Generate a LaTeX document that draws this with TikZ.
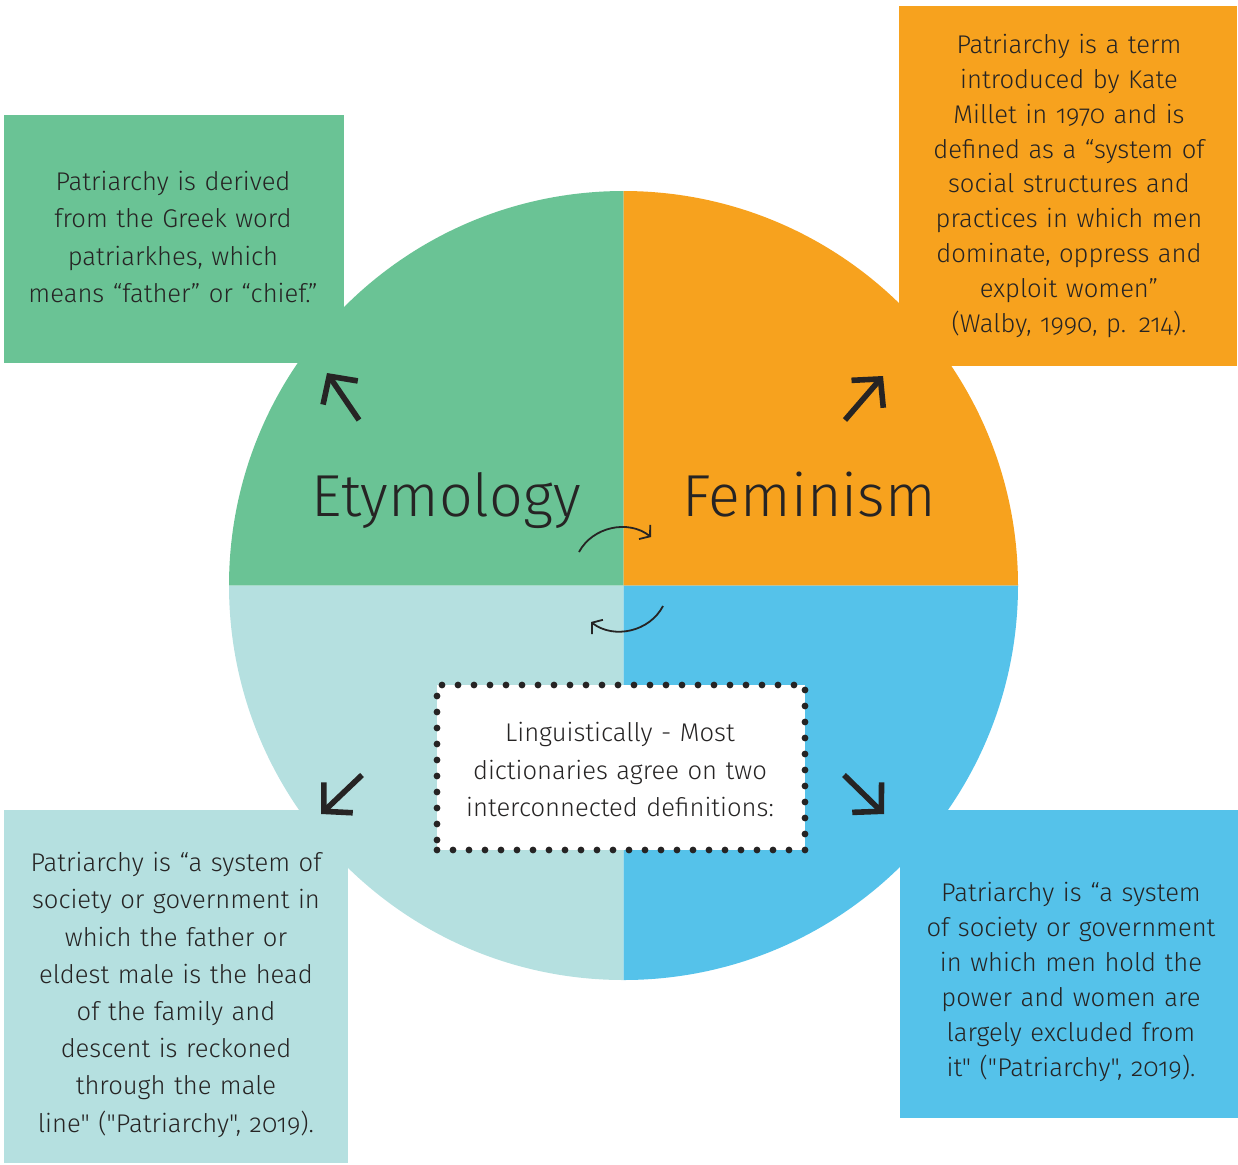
\documentclass[tikz,border=0pt]{standalone}
\usepackage{fontspec}
\setmainfont{Fira Sans}[UprightFont=* Light, Numbers=OldStyle, Ligatures=TeXOff]
\usetikzlibrary{arrows.meta}
\definecolor{etygreen}{RGB}{106,195,149}
\definecolor{femorange}{RGB}{247,162,30}
\definecolor{lingteal}{RGB}{181,224,224}
\definecolor{dictblue}{RGB}{85,194,234}
\definecolor{ink}{RGB}{38,36,36}

\tikzset{
  infobox/.style={inner sep=0pt, outer sep=0pt},
  infotext/.style={text=ink, text width=220pt, align=center, anchor=base, inner sep=0pt,
    font=\fontsize{12.8}{18.6}\selectfont},
  bigword/.style={text=ink, anchor=base, inner sep=0pt, font=\fontsize{29.6}{32}\selectfont},
  bigarrow/.style={ink, line width=2.8pt, -{Straight Barb[length=10pt,width=21pt]}},
  swirl/.style={ink, line width=0.9pt, -{Straight Barb[length=3.5pt,width=9pt]}},
  dotbox/.style={fill=white, draw=ink, line width=3.4pt, line cap=round,
    dash pattern=on 0pt off 8pt, inner sep=0pt}
}

\begin{document}
\begin{tikzpicture}[x=0.5pt,y=-0.5pt]
  \def\rad{197.25pt}
  \useasboundingbox (0,0) rectangle (1238,1164);

  \coordinate (hub) at (623.5,585.5);
  \foreach \a/\col in {90/etygreen,0/femorange,180/lingteal,270/dictblue}
    \fill[\col] (hub) -- ++(\a:\rad) arc[start angle=\a, end angle=\a+90, radius=\rad] -- cycle;

  % the four boxes round the circle
  \node[infobox, fill=etygreen, minimum width=170pt, minimum height=124pt] (etybox) at (174,239) {};
  \node[infobox, fill=femorange, minimum width=169pt, minimum height=180pt] (fembox) at (1068,186) {};
  \node[infobox, fill=lingteal, minimum width=172pt, minimum height=176.5pt] (lingbox) at (176,986.5) {};
  \node[infobox, fill=dictblue, minimum width=169pt, minimum height=154pt] (dictbox) at (1069,964) {};

  \node[infotext] (etytext) at (173,190.7) {Patriarchy is derived\\ from the Greek word\\ patriarkhes, which\\ means “father” or “chief.”};
  \node[infotext, font=\fontsize{12.8}{17.45}\selectfont] (femtext) at (1069,53.3) {Patriarchy is a term\\ introduced by Kate\\ Millet in 1970 and is\\ defined as a “system of\\ social structures and\\ practices in which men\\ dominate, oppress and\\ exploit women”\\ (Walby, 1990, p. 214).};
  \node[infotext] (lingtext) at (176,871.7) {Patriarchy is “a system of\\ society or government in\\ which the father or\\ eldest male is the head\\ of the family and\\ descent is reckoned\\ through the male\\ line" ("Patriarchy", 2019).};
  \node[infotext, font=\fontsize{12.8}{17.5}\selectfont] (dicttext) at (1071,901.7) {Patriarchy is “a system\\ of society or government\\ in which men hold the\\ power and women are\\ largely excluded from\\ it" ("Patriarchy", 2019).};

  \node[bigword] (ety) at (446,516) {Etymology};
  \node[bigword] (fem) at (809,516) {Feminism};

  \node[dotbox, minimum width=184pt, minimum height=82.5pt] (ling) at (621,767.5) {};
  \node[infotext, font=\fontsize{12.8}{18.75}\selectfont] (lingnote) at (620,741.7) {Linguistically - Most\\ dictionaries agree on two\\ interconnected definitions:};

  % arrows out to the boxes
  \coordinate (etytail) at (359,420);  \coordinate (etytip) at (327,373);
  \coordinate (femtail) at (845,420);  \coordinate (femtip) at (883,376);
  \coordinate (lingtail) at (362,775); \coordinate (lingtip) at (321,814);
  \coordinate (dicttail) at (844,775); \coordinate (dicttip) at (884,814);
  \foreach \n in {ety,fem,ling,dict}
    \draw[bigarrow] (\n tail) -- (\n tip);

  \coordinate (upfrom) at (579,552); \coordinate (upto) at (651,537);
  \coordinate (downfrom) at (663,606); \coordinate (downto) at (591,622);
  \draw[swirl] (upfrom) to[bend left=50] (upto);
  \draw[swirl] (downfrom) to[bend left=50] (downto);
\end{tikzpicture}
\end{document}
